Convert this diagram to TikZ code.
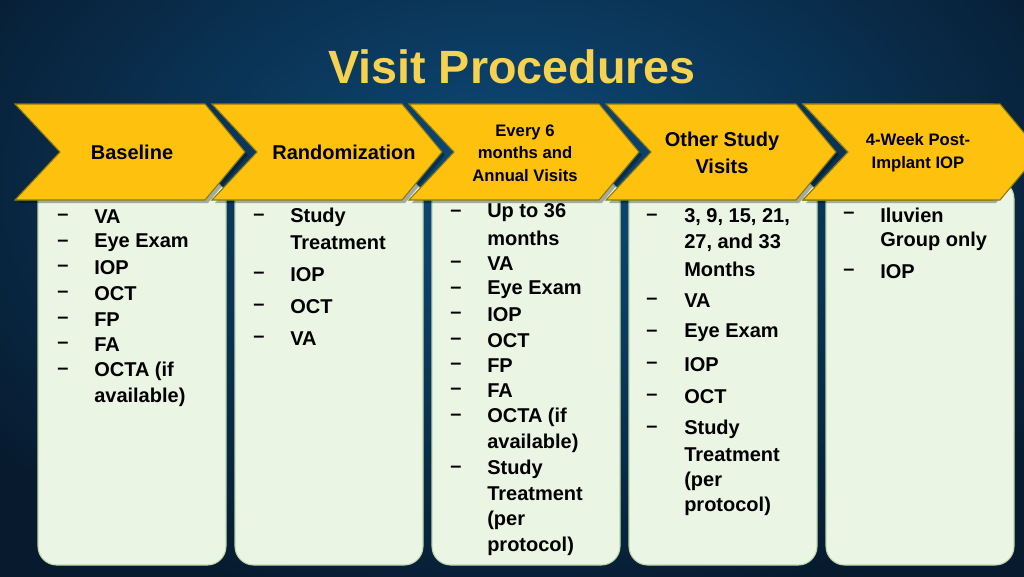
\documentclass[tikz,border=0pt]{standalone}
\usepackage{fontspec}
\setmainfont{Liberation Sans}
\begin{document}
\begin{tikzpicture}[x=0.75pt,y=-0.75pt,
  chev/.style={fill=chevY,draw=chevE,line width=0.8pt},
  boxx/.style={fill=boxG,draw=boxE,line width=0.8pt,rounded corners=14pt},
  itm/.style={anchor=west,font=\bfseries\fontsize{15}{18}\selectfont,inner sep=0pt},
  lab/.style={align=center,font=\bfseries\fontsize{15}{18}\selectfont,inner sep=0pt},
  labs/.style={align=center,font=\bfseries\fontsize{12.5}{17}\selectfont,inner sep=0pt}]
\definecolor{chevY}{HTML}{FEC10E}
\definecolor{chevE}{HTML}{8A7A10}
\definecolor{boxG}{HTML}{EAF5E4}
\definecolor{boxE}{HTML}{B9D7A8}
\definecolor{titY}{HTML}{F6D24E}
\definecolor{bgA}{HTML}{0D4C7C}
\definecolor{bgB}{HTML}{071A2E}
\clip (0,0) rectangle (1024,576);
\useasboundingbox (0,0) rectangle (1024,576);
\path[inner color=bgA,outer color=bgB] (-150,-250) rectangle (1174,626);
\node[font=\bfseries\fontsize{35}{40}\selectfont,text=titY] (title) at (512,67) {Visit Procedures};
\foreach \i in {0,...,4}{
  \path[boxx] (38+197*\i,180) rectangle (226+197*\i,565);
}
\foreach \i in {0,...,4}{
  \begin{scope}[xshift=197*\i*0.75pt]
  \path[fill=black,opacity=0.3] (18,107)--(208,107)--(248,155)--(208,203)--(18,203)--(63,155)--cycle;
  \path[chev] (15,104)--(205,104)--(245,152)--(205,200)--(15,200)--(60,152)--cycle;
  \end{scope}
}
\path[chev] (803,104)--(1000,104)--(1040,152)--(1000,200)--(803,200)--(848,152)--cycle;
\node[lab] (c1) at (132,152) {Baseline};
\node[lab] (c2) at (344,152) {Randomization};
\node[labs] (c3) at (525,153) {Every 6\\months and\\Annual Visits};
\node[lab] (c4) at (722,153) {Other Study\\[2pt]Visits};
\node[labs] (c5) at (918,153) {4-Week Post-\\Implant IOP};
\foreach \y/\t/\d in {217/VA/1,243/Eye Exam/1,268/IOP/1,294/OCT/1,320/FP/1,345/FA/1,371/OCTA (if/1,397/available)/0}{
  \node[itm] at (94,\y) {\t};
  \ifnum\d=1 \node[itm] at (57,\y) {–};\fi
}
\foreach \y/\t/\d in {217/Study/1,243/Treatment/0,275/IOP/1,307/OCT/1,339/VA/1}{
  \node[itm] at (290,\y) {\t};
  \ifnum\d=1 \node[itm] at (253,\y) {–};\fi
}
\foreach \y/\t/\d in {213/Up to 36/1,238/months/0,264/VA/1,290/Eye Exam/1,315/IOP/1,341/OCT/1,366/FP/1,391/FA/1,417/OCTA (if/1,443/available)/0,469/Study/1,494/Treatment/0,520/(per/0,546/protocol)/0}{
  \node[itm] at (487,\y) {\t};
  \ifnum\d=1 \node[itm] at (450,\y) {–};\fi
}
\foreach \y/\t/\d in {217/{3, 9, 15, 21,}/1,243/{27, and 33}/0,269/Months/0,301/VA/1,333/Eye Exam/1,365/IOP/1,397/OCT/1,429/Study/1,455/Treatment/0,481/(per/0,506/protocol)/0}{
  \node[itm] at (684,\y) {\t};
  \ifnum\d=1 \node[itm] at (646,\y) {–};\fi
}
\foreach \y/\t/\d in {215/Iluvien/1,241/Group only/0,272/IOP/1}{
  \node[itm] at (880,\y) {\t};
  \ifnum\d=1 \node[itm] at (843,\y) {–};\fi
}
\end{tikzpicture}
\end{document}
